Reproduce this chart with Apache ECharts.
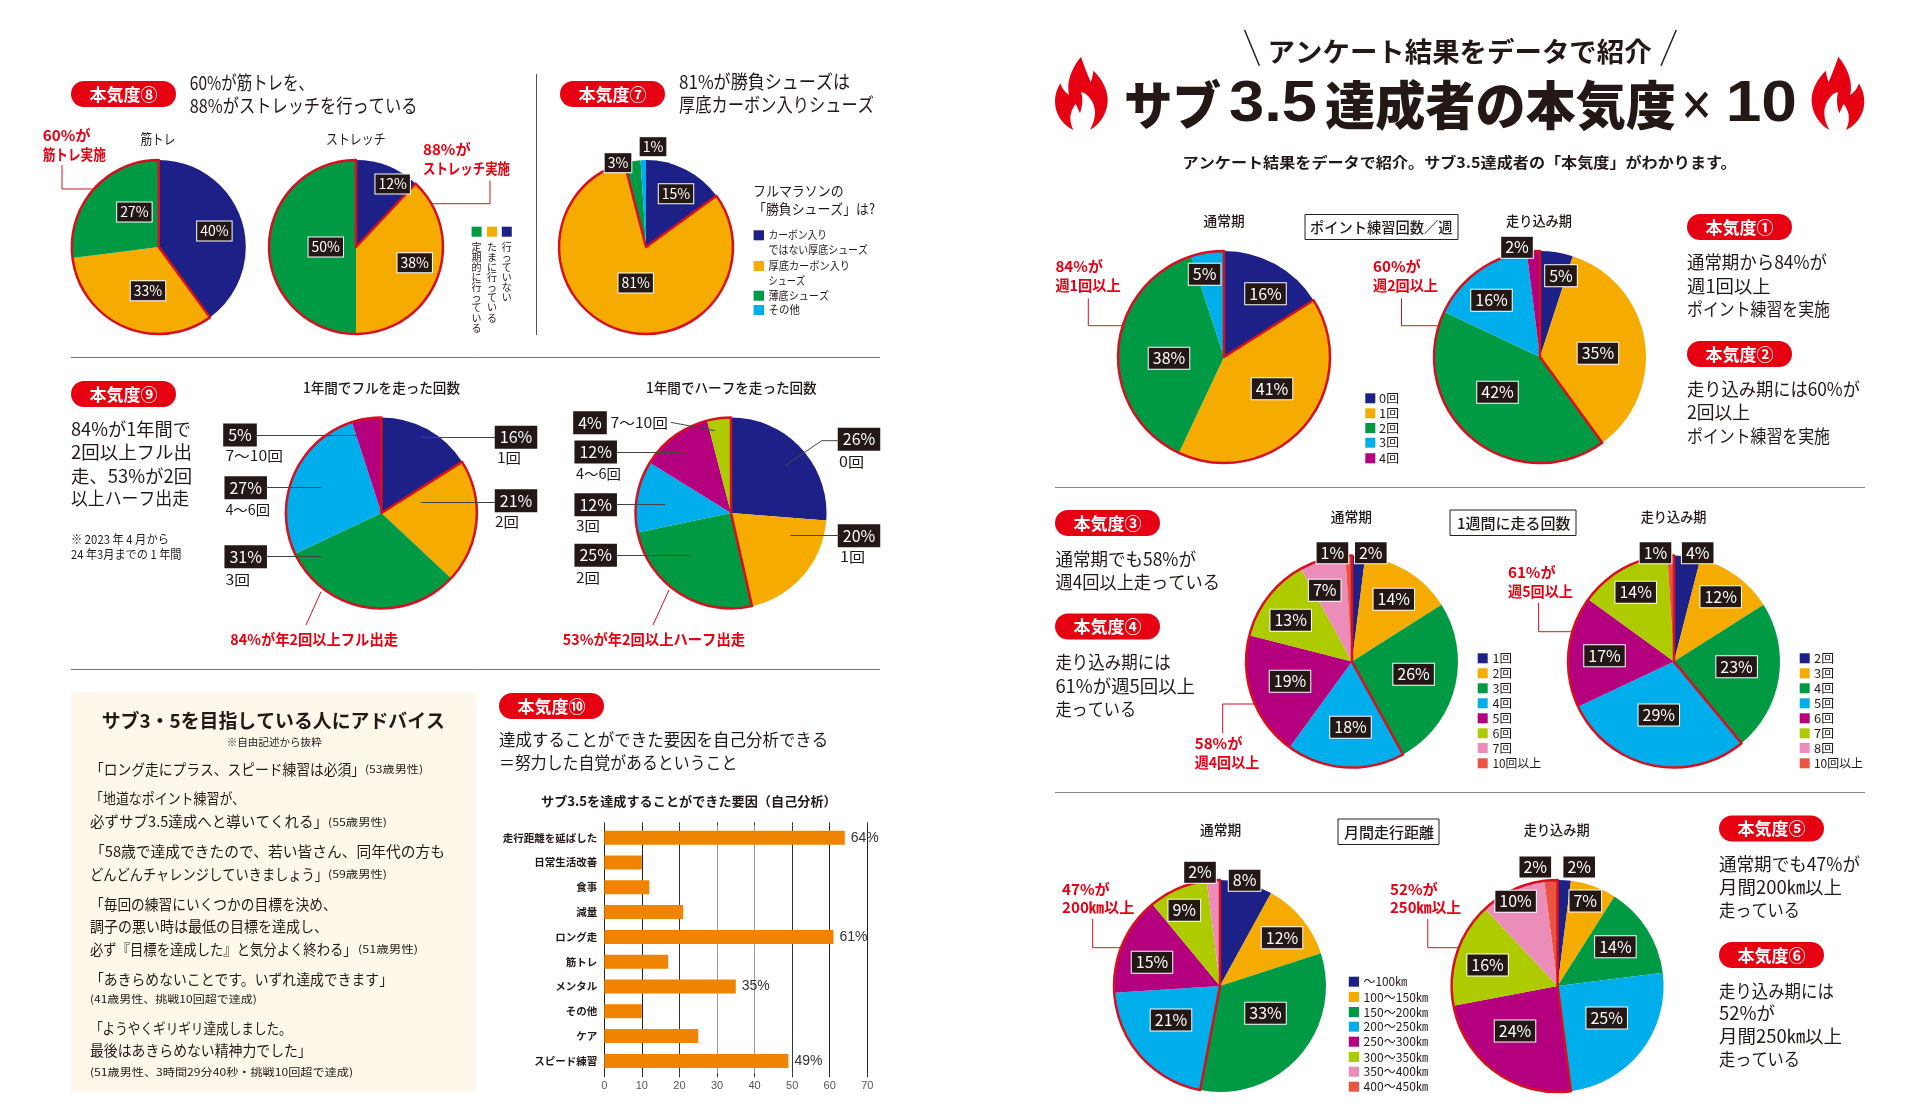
<!DOCTYPE html>
<html lang="ja">
<head>
<meta charset="utf-8">
<title>サブ3.5達成者の本気度×10</title>
<style>html,body{margin:0;padding:0;background:#fff}#c{width:1911px;height:1113px}</style>
<script src="https://cdn.jsdelivr.net/npm/echarts@6/dist/echarts.min.js"></script>
</head>
<body>
<div id="c"></div>
<script>
/* ---------- data ---------- */
const muscleTraining   = [40, 33, 27];
const stretching       = [12, 38, 50];
const raceShoes        = [15, 81, 3, 1];
const fullMarathons    = [16, 21, 31, 27, 5];
const halfMarathons    = [26, 20, 25, 12, 12, 4];
const pointNormal      = [16, 41, 38, 5];
const pointPeak        = [5, 35, 42, 16, 2];
const runsWeekNormal   = [2, 14, 26, 18, 19, 13, 7, 1];
const runsWeekPeak     = [4, 12, 23, 29, 17, 14, 0, 1];
const monthlyNormal    = [8, 12, 33, 21, 15, 9, 2];
const monthlyPeak      = [2, 7, 14, 25, 24, 16, 10, 2];
const factorCategories = ['走行距離を延ばした','日常生活改善','食事','減量','ロング走','筋トレ','メンタル','その他','ケア','スピード練習'];
const factorValues     = [64, 10, 12, 21, 61, 17, 35, 10, 25, 49];
const factorLabelled   = ['走行距離を延ばした','ロング走','メンタル','スピード練習'];
const factorTicks      = [0, 10, 20, 30, 40, 50, 60, 70];
const legendShoes      = [['カーボン入り','ではない厚底シューズ'],['厚底カーボン入り','シューズ'],['薄底シューズ'],['その他']];
const legendPoint      = ['0回','1回','2回','3回','4回'];
const legendWeekNormal = ['1回','2回','3回','4回','5回','6回','7回','10回以上'];
const legendWeekPeak   = ['2回','3回','4回','5回','6回','7回','8回','10回以上'];
const legendMonthly    = ['～100㎞','100～150㎞','150～200㎞','200～250㎞','250～300㎞','300～350㎞','350～400㎞','400～450㎞'];

/* ---------- palette & fonts ---------- */
const NAVY='#1D2087',YEL='#F6AB00',GRN='#009944',SKY='#00AEEB',PUR='#B4007E',LIM='#AECB00',PNK='#EB8DB8',COR='#EA5440';
const palette=[NAVY,YEL,GRN,SKY,PUR,LIM,PNK,COR];
const RED='#E60012', LINE_RED='#D7101F', INK='#231815';
const FF='"Noto Sans CJK JP","Noto Sans",sans-serif';
const CLEAR='rgba(0,0,0,0)';

/* ---------- pie layout ---------- */
const small={font:14,pad:[1,3]}, big={font:16,pad:[1,4]};
const pies=[
 {v:muscleTraining,c:[158.8,247],r:87,hi:[1,2],s:small,col:[NAVY,YEL,GRN],lab:[[214.4,231],[148,290.7],[134.4,212]]},
 {v:stretching,c:[356,247],r:87,hi:[1,2],s:small,col:[NAVY,YEL,GRN],lab:[[392.7,184],[414.7,262.7],[325.8,247]]},
 {v:raceShoes,c:[646,247],r:87,hi:[1,1],s:small,col:[NAVY,YEL,GRN,SKY],lab:[[676,193.7],[635.7,283],[618,162.7],[653,146.7]]},
 {v:fullMarathons,c:[381.4,513],r:95.5,hi:[1,4],s:big,col:[NAVY,YEL,GRN,SKY,PUR],noBorder:1,lab:[[516,437.3],[516,500.7],[245.7,556.7],[245.7,487.7],[240,435]]},
 {v:halfMarathons,c:[731,513],r:95.5,hi:[2,5],s:big,col:[NAVY,YEL,GRN,SKY,PUR,LIM],noBorder:1,lab:[[859,439.3],[859,535.7],[595.7,555.3],[595.7,504.7],[595.7,452],[590,422.7]]},
 {v:pointNormal,c:[1224,357],r:106,hi:[1,3],s:big,col:[NAVY,YEL,GRN,SKY],lab:[[1265.5,293.7],[1272,388.7],[1169,358.3],[1204.6,274.3]]},
 {v:pointPeak,c:[1540,357],r:106,hi:[2,4],s:big,col:[NAVY,YEL,GRN,SKY,PUR],lab:[[1561,275.7],[1597.9,353.3],[1497.5,392.3],[1491.5,300.3],[1517,247.3]]},
 {v:runsWeekNormal,c:[1352,661.6],r:106,hi:[3,7],s:big,col:palette,lab:[[1370.8,552.7],[1393.8,599.3],[1413.6,674.3],[1350.5,727.3],[1290,681.3],[1290.7,620.3],[1324.7,590.3],[1332.4,552.7]]},
 {v:runsWeekPeak,c:[1674,661.6],r:106,hi:[3,7],s:big,col:palette,lab:[[1697.7,552.7],[1720.7,596.7],[1736.6,666.7],[1658.8,715],[1604.5,655.7],[1635.7,592.3],null,[1655.5,552.7]]},
 {v:monthlyNormal,c:[1220,986],r:106,hi:[3,6],s:big,col:palette,lab:[[1244.6,880.3],[1282,937.7],[1265.5,1013.3],[1171,1020],[1152,962.3],[1184.3,910.3],[1200,872.3]]},
 {v:monthlyPeak,c:[1557.6,986],r:106,hi:[4,7],s:big,col:palette,lab:[[1579.2,867],[1585.3,901],[1615.4,946.7],[1606.7,1018],[1515,1031],[1487.6,965],[1515.6,901.3],[1535.3,867]]}
];
function sum(a){return a.reduce((x,y)=>x+y,0);}
const series=[];
const pieBase={type:'pie',startAngle:90,clockwise:true,silent:true,animation:false,avoidLabelOverlap:false,labelLine:{show:false},emphasis:{disabled:true}};
pies.forEach(p=>{
  const before=sum(p.v.slice(0,p.hi[0])), inside=sum(p.v.slice(p.hi[0],p.hi[1]+1)), after=sum(p.v.slice(p.hi[1]+1));
  // coloured slices
  series.push(Object.assign({},pieBase,{center:p.c,radius:[0,p.r],z:2,label:{show:false},
    data:p.v.map((val,i)=>({value:val,itemStyle:{color:p.col[i]}}))}));
  // red outline of the highlighted share
  series.push(Object.assign({},pieBase,{center:p.c,radius:[0,p.r],z:3,label:{show:false},
    data:[{value:before,itemStyle:{color:CLEAR}},
          {value:inside,itemStyle:{color:CLEAR,borderColor:LINE_RED,borderWidth:2.5}},
          {value:after,itemStyle:{color:CLEAR}}]}));
  // value boxes, on top of everything
  series.push(Object.assign({},pieBase,{center:p.c,radius:[0,p.r],z:4,
    data:p.v.map(val=>({value:val,itemStyle:{color:CLEAR}})),
    label:{show:true,position:'inside',formatter:d=>d.value+'%',color:'#fff',fontFamily:FF,fontSize:p.s.font,lineHeight:p.s.font+3,
      backgroundColor:INK,borderColor:p.noBorder?INK:'#fff',borderWidth:1,padding:p.s.pad},
    labelLayout:o=>{const q=p.lab[o.dataIndex];return q?{x:q[0],y:q[1],align:'center',verticalAlign:'middle'}:{x:-200,y:-200};}
  }));
});

/* ---------- bar chart ---------- */
series.push({type:'bar',xAxisIndex:0,yAxisIndex:0,barWidth:14,z:2,silent:true,animation:false,
  data:factorValues,itemStyle:{color:'#F08300'},
  label:{show:true,position:'right',distance:6,color:'#333',fontFamily:'"Liberation Sans"',fontSize:14,
    formatter:d=>factorLabelled.includes(d.name)?d.value+'%':''}
});

/* ---------- flames ---------- */
const flamePath='M108 20 C118 50 128 75 137 96 C142 85 144 72 145 62 C170 85 190 120 188 155 C186 195 160 225 135 240 C155 205 155 170 135 145 C125 132 115 125 108 127 C115 145 112 170 105 190 C100 180 97 170 92 162 C78 180 68 205 85 240 C55 225 30 195 30 155 C30 130 38 115 46 100 C50 115 60 128 72 135 C65 100 75 60 108 20 Z';
const flameSpots=[[1055,1],[1864.3,-1]];
series.push({type:'custom',coordinateSystem:'none',silent:true,animation:false,z:15,data:flameSpots,
  renderItem:(params)=>{const f=flameSpots[params.dataIndex];return {type:'path',x:f[0],y:56.7,scaleX:f[1],
    shape:{pathData:flamePath,layout:'cover',x:0,y:0,width:52.7,height:73.3},style:{fill:RED}};}
});

/* ---------- text & decoration helpers ---------- */
const g=[];
const mctx=document.createElement('canvas').getContext('2d');
function T(str,x,y,size,right,o){
  o=o||{};
  const weight=o.w||'normal', font=weight+' '+size+'px '+(o.f||FF);
  mctx.font=font;
  const m=mctx.measureText(str).width;
  const sx=right?(right-x)/m:1;
  g.push({type:'text',x:x,y:y,scaleX:sx,silent:true,z:o.z||20,
    style:{text:str,x:0,y:0,fill:o.c||INK,font:font,textAlign:'left',textVerticalAlign:'middle'}});
}
function TC(str,cx,y,size,o){
  o=o||{};
  g.push({type:'text',x:cx,y:y,silent:true,z:o.z||20,
    style:{text:str,x:0,y:0,fill:o.c||INK,font:(o.w||'normal')+' '+size+'px '+FF,textAlign:'center',textVerticalAlign:'middle'}});
}
function L(pts,c,w){
  g.push({type:'polyline',silent:true,z:10,shape:{points:pts},style:{stroke:c||'#444',lineWidth:w||1,fill:null}});
}
function R(x,y,w,h,fill,stroke,r){
  g.push({type:'rect',silent:true,z:1,shape:{x:x,y:y,width:w,height:h,r:r||0},style:{fill:fill,stroke:stroke||null,lineWidth:stroke?1:0}});
}
function pill(label,x,y){
  g.push({type:'rect',silent:true,z:15,shape:{x:x,y:y,width:105,height:26,r:13},style:{fill:RED}});
  TC(label,x+52.5,y+13.5,17,{c:'#fff',w:'bold'});
}
function box(str,x0,x1,y0,y1,tx0,tx1,size){
  g.push({type:'rect',silent:true,z:15,shape:{x:x0,y:y0,width:x1-x0,height:y1-y0},style:{fill:'#fff',stroke:'#222',lineWidth:1}});
  T(str,tx0,(y0+y1)/2+.5,size,tx1,{w:'500'});
}
function swatch(x,y,w,h,c){g.push({type:'rect',silent:true,z:15,shape:{x:x,y:y-h/2,width:w,height:h},style:{fill:c}});}
function vert(str,cx,top,c){
  g.push({type:'text',x:cx,y:top,silent:true,z:20,style:{text:str.split('').join('\n'),x:0,y:0,fill:c||INK,font:'10px '+FF,lineHeight:10.1,textAlign:'center',textVerticalAlign:'top'}});
}
const redT=(s,x,y,r)=>T(s,x,y,15,r,{c:RED,w:'bold'});

/* ---------- rules, panels ---------- */
R(71,692.7,405.7,399,'#FEF8EB');
L([[71,357.5],[880,357.5]],'#777');
L([[71,669.5],[880,669.5]],'#777');
L([[536.5,74],[536.5,335]],'#555');
L([[1055,487.5],[1865,487.5]],'#888');
L([[1055,792.5],[1865,792.5]],'#888');

/* ---------- pills ---------- */
pill('本気度⑧',71,81);pill('本気度⑦',560,81);pill('本気度⑨',71,381);pill('本気度⑩',499,693);
pill('本気度①',1687,214);pill('本気度②',1687,341);pill('本気度③',1055,510);pill('本気度④',1055,613.5);
pill('本気度⑤',1719,815.5);pill('本気度⑥',1719,942);

/* ---------- header ---------- */
T('アンケート結果をデータで紹介',1267.6,51.7,27,1651.6,{w:'bold'});
L([[1244.6,30],[1259.4,65.7]],'#222',1.5);
L([[1676.3,30],[1661,65.7]],'#222',1.5);
T('サブ',1124,105,52,1221,{w:'900'});
T('3.5',1229,105,58,1317,{w:'bold',f:'"Liberation Sans"'});
T('達成者の本気度',1325,105,52,1676,{w:'900'});
T('×',1679,105,40,1714,{w:'900'});
T('10',1725.7,105,58,1797,{w:'bold',f:'"Liberation Sans"'});
T('アンケート結果をデータで紹介。サブ3.5達成者の「本気度」がわかります。',1182.6,162.7,15,1736.6,{w:'bold'});

/* ---------- 本気度8 / 7 ---------- */
const H=19;
T('60%が筋トレを、',189.8,82.3,H,314);
T('88%がストレッチを行っている',189.8,105.7,H,417.4);
T('81%が勝負シューズは',679,82,H,850);
T('厚底カーボン入りシューズ',679,105,H,874);
redT('60%が',42.7,135,90.5);redT('筋トレ実施',42.7,154,105.8);
T('筋トレ',140.4,139,14,175.5);T('ストレッチ',326,139,14,385.6);
redT('88%が',423,149,470.6);redT('ストレッチ実施',423,168.7,510);
L([[62,165],[62,189],[95,189]],LINE_RED);
L([[432,203.7],[490,203.7],[490,180.7]],LINE_RED);
swatch(471.6,231.7,10,10,GRN);swatch(487,231.7,10,10,YEL);swatch(501.8,231.7,10,10,NAVY);
vert('定期的に行っている',476.6,242,INK);vert('たまに行っている',492,242,INK);vert('行っていない',506.8,242,INK);
T('フルマラソンの',753,190.7,14,843.6);T('「勝負シューズ」は?',753,209,14,875);
swatch(753.6,235.3,10.4,10,NAVY);swatch(753.6,266,10.4,10,YEL);swatch(753.6,295.7,10.4,10,GRN);swatch(753.6,310,10.4,10,SKY);
T(legendShoes[0][0],768.5,235.3,11,827);T(legendShoes[0][1],768.5,250.3,11,868);
T(legendShoes[1][0],768.5,266,11,850);T(legendShoes[1][1],768.5,280.7,11,805);
T(legendShoes[2][0],768.5,295.7,11,829);T(legendShoes[3][0],768.5,310,11,800);

/* ---------- 本気度9 ---------- */
T('1年間でフルを走った回数',303,387.7,14,460,{w:'500'});
T('1年間でハーフを走った回数',646,387.7,14,816.7,{w:'500'});
T('84%が1年間で',71,429,18,191);T('2回以上フル出',71,452.3,18,192);T('走、53%が2回',71,475.7,18,192);T('以上ハーフ出走',71,498.3,18,189);
T('※ 2023 年 4 月から',71,539,12,169);T('24 年3月までの 1 年間',71,554,12,181.5);
[['1回',497,458,521],['2回',495,522,519],['7～10回',225.4,456,283],['4～6回',225.4,510,270],['3回',225.4,579.3,250],
 ['0回',839,461.7,864],['1回',840,556.7,865],['2回',576,577.3,600],['3回',576,525.7,600],['4～6回',576,474,621],['7～10回',610.5,422.3,668]
].forEach(a=>T(a[0],a[1],a[2],14,a[3]));
L([[495,437.5],[421,437.5]]);L([[495,502.5],[421,502.5]]);L([[255,435.5],[368,435.5]]);L([[265,487.5],[321,487.5]]);L([[265,556.5],[321,556.5]]);
L([[839,440.7],[821.7,440.7],[786,465]]);L([[840,535.5],[790.4,535.5]]);L([[616,555.5],[690,555.5]]);L([[616,504.5],[665.3,504.5]]);L([[616,452.5],[681.8,452.5]]);L([[670.8,422.3],[714.7,430.7]]);
L([[321,591.7],[306,625]],LINE_RED);L([[669,590],[653,625]],LINE_RED);
redT('84%が年2回以上フル出走',230.3,639,398);redT('53%が年2回以上ハーフ出走',562.8,639,745);

/* ---------- advice panel ---------- */
T('サブ3・5を目指している人にアドバイス',101.7,720.7,19,445,{w:'bold'});
T('※自由記述から抜粋',226.7,741.7,10.5,321.7);
[['「ロング走にプラス、スピード練習は必須」',769.3,365],['「地道なポイント練習が、',798.7,245],['必ずサブ3.5達成へと導いてくれる」',821.7,328],
 ['「58歳で達成できたので、若い皆さん、同年代の方も',851,445],['どんどんチャレンジしていきましょう」',874,328],
 ['「毎回の練習にいくつかの目標を決め、',904,336.7],['調子の悪い時は最低の目標を達成し、',926.7,328],['必ず『目標を達成した』と気分よく終わる」',949,356.7],
 ['「あきらめないことです。いずれ達成できます」',979.3,393],['「ようやくギリギリ達成しました。',1028,291.7],['最後はあきらめない精神力でした」',1050.7,311.7]
].forEach(a=>T(a[0],90,a[1],15,a[2]));
[['(53歳男性)',365,769.3,423],['(55歳男性)',328,821.7,387],['(59歳男性)',328,874,387],['(51歳男性)',358,949,418],
 ['(41歳男性、挑戦10回超で達成)',90,999.3,256.7],['(51歳男性、3時間29分40秒・挑戦10回超で達成)',90,1071.7,353]
].forEach(a=>T(a[0],a[1],a[2],10.5,a[3]));

/* ---------- 本気度10 ---------- */
T('達成することができた要因を自己分析できる',499,740,16.5,828.3);
T('＝努力した自覚があるということ',499,762.3,16.5,737.3);
T('サブ3.5を達成することができた要因（自己分析）',541,800.7,13,836.7,{w:'bold'});

/* ---------- point practice ---------- */
T('通常期',1203.5,221,14,1244.6,{w:'500'});T('走り込み期',1506,221,14,1572,{w:'500'});
box('ポイント練習回数／週',1305,1458,214.5,239.5,1310,1452.5,15);
redT('84%が',1055.4,266.3,1103);redT('週1回以上',1055.4,285.3,1120.6);
redT('60%が',1373,266.3,1420.7);redT('週2回以上',1373,285.3,1438);
L([[1088.3,298.3],[1088.3,325.7],[1122,325.7]],LINE_RED);
L([[1401.5,298.3],[1401.5,325.7],[1437.7,325.7]],LINE_RED);
T('通常期から84%が',1687,262.3,18,1827);T('週1回以上',1687,285.7,18,1770.7);T('ポイント練習を実施',1687,309,18,1830);
T('走り込み期には60%が',1687,389,18,1860);T('2回以上',1687,412.3,18,1750);T('ポイント練習を実施',1687,435.7,18,1830);
[398.3,413.3,428,442.7,458.3].forEach((y,i)=>{swatch(1365.3,y,10,10,palette[i]);T(legendPoint[i],1379,y,12,1399);});

/* ---------- weekly runs ---------- */
T('通常期',1330.7,516.7,14,1372,{w:'500'});T('走り込み期',1640.7,516.7,14,1706.5,{w:'500'});
box('1週間に走る回数',1450,1576,510,535.5,1457,1570.5,15);
T('通常期でも58%が',1055.4,559,18,1196);T('週4回以上走っている',1055.4,582.3,18,1220);
T('走り込み期には',1055.4,662.3,18,1170.6);T('61%が週5回以上',1055.4,685.7,18,1195);T('走っている',1055.4,708.7,18,1136);
L([[1254,704],[1222.7,704],[1222.7,733.3]],LINE_RED);
redT('58%が',1194.7,743.3,1242.4);redT('週4回以上',1194.7,762.3,1259.4);
redT('61%が',1508,572,1555.6);redT('週5回以上',1508,591,1573);
L([[1538.6,602.7],[1538.6,631.7],[1572,631.7]],LINE_RED);
const weekY=[658.3,673.3,688.3,703.3,718.3,733.3,748,763.3];
weekY.forEach((y,i)=>{swatch(1477.7,y,10,10,palette[i]);T(legendWeekNormal[i],1492.5,y,12,i==7?1541:1512);
  swatch(1799.7,y,10,10,palette[i]);T(legendWeekPeak[i],1814,y,12,i==7?1863:1834);});

/* ---------- monthly distance ---------- */
T('通常期',1200,830,14,1241.3,{w:'500'});T('走り込み期',1523.8,830,14,1589.6,{w:'500'});
box('月間走行距離',1338,1439,819,844.5,1344,1434,15);
redT('47%が',1062,889,1109.7);redT('200㎞以上',1062,907.3,1134.4);
redT('52%が',1390,889,1437.7);redT('250㎞以上',1390,907.3,1461.3);
L([[1092.7,919],[1092.7,947.7],[1122.3,947.7]],LINE_RED);
L([[1427.8,919],[1427.8,947.7],[1458,947.7]],LINE_RED);
[981.7,997,1012,1026.7,1041.7,1057,1071.7,1086.7].forEach((y,i)=>{swatch(1348.8,y,10.2,10,palette[i]);T(legendMonthly[i],1363.6,y,12,i==0?1407:1428);});
T('通常期でも47%が',1719,864,18,1860);T('月間200㎞以上',1719,887.3,18,1842);T('走っている',1719,910.3,18,1800);
T('走り込み期には',1719,990.7,18,1833.8);T('52%が',1719,1013.3,18,1775);T('月間250㎞以上',1719,1036.3,18,1842);T('走っている',1719,1059.3,18,1800);

/* ---------- chart ---------- */
const chart=echarts.init(document.getElementById('c'),null,{renderer:'canvas',width:1911,height:1113});
chart.setOption({
  backgroundColor:'#fff',animation:false,tooltip:{show:false},
  grid:[{left:604.3,top:825.3,width:263,height:248,containLabel:false}],
  xAxis:[
    {type:'value',gridIndex:0,position:'bottom',min:0,max:70,interval:10,
     axisLine:{show:false},axisTick:{show:true,length:4,lineStyle:{color:'#333',width:1}},
     axisLabel:{margin:7,color:'#555',fontFamily:'"Liberation Sans"',fontSize:11,formatter:v=>factorTicks.includes(v)?String(v):''},
     splitLine:{show:true,showMinLine:true,lineStyle:{width:1,color:['#222','#222','#333','#999','#999','#333','#222','#222']}}},
    {type:'value',gridIndex:0,position:'top',min:0,max:70,interval:10,
     axisLine:{show:false},axisTick:{show:true,length:3,lineStyle:{color:'#333',width:1}},
     axisLabel:{show:false},splitLine:{show:false}}
  ],
  yAxis:[{type:'category',gridIndex:0,inverse:true,data:factorCategories,
     axisLine:{show:true,lineStyle:{color:'#222',width:1}},axisTick:{show:false},
     axisLabel:{margin:7,color:INK,fontFamily:FF,fontWeight:'bold',fontSize:10.5,interval:0},
     splitLine:{show:false}}],
  series:series,
  graphic:{elements:g}
});
</script>
</body>
</html>
